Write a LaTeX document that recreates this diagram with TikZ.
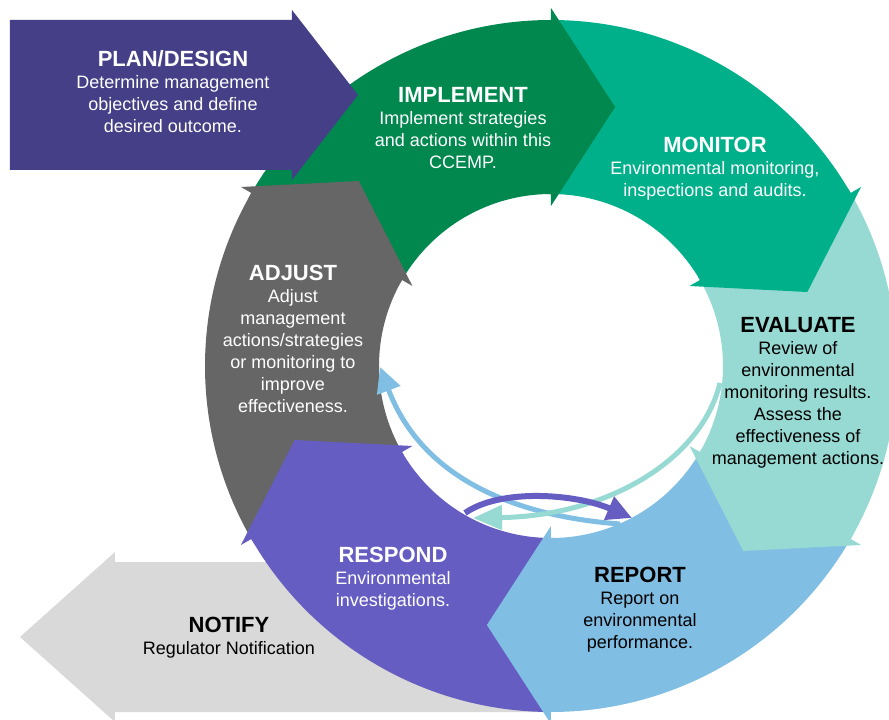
\documentclass[tikz,border=0pt]{standalone}
\usepackage{fontspec}
\setmainfont{Liberation Sans}
\usetikzlibrary{arrows.meta}
\definecolor{plancol}{HTML}{443F86}
\definecolor{implcol}{HTML}{00884F}
\definecolor{monicol}{HTML}{00B08A}
\definecolor{evalcol}{HTML}{96DAD3}
\definecolor{repocol}{HTML}{80BEE3}
\definecolor{respcol}{HTML}{655DC1}
\definecolor{adjucol}{HTML}{666666}
\definecolor{noticol}{HTML}{D9D9D9}
\newcommand{\ttl}[1]{{\fontsize{22}{22}\selectfont\bfseries #1}}
\begin{document}
\begin{tikzpicture}[x=1pt,y=1pt,
  lbl/.style={align=center,inner sep=0pt,anchor=north,font=\fontsize{18}{22}\selectfont},
  innerarrow/.style={line width=5pt,-{Triangle[length=25pt,width=24pt]}}]
\useasboundingbox (-551,-354) rectangle (338,366);
% NOTIFY arrow (behind ring)
\fill[noticol] (-11,-196) -- (-436,-196) -- (-436,-186) -- (-531,-271) -- (-436,-356) -- (-436,-346) -- (-11,-346) -- cycle;
% ring bands
\foreach \s/\e/\c in {150/90/implcol, 90/30/monicol, 30/-30/evalcol, -30/-90/repocol, -90/-150/respcol, 210/150/adjucol}
  \fill[\c] (\s:346) arc[start angle=\s,end angle=\e,radius=346] -- (\e:172) arc[start angle=\e,end angle=\s,radius=172] -- cycle;
% arrow heads (with a small sliver of their own band to hide seams)
\foreach \e/\c in {90/implcol, 30/monicol, -30/evalcol, -90/repocol, -150/respcol, 150/adjucol}
  \fill[\c] ({\e+1}:172) -- (\e:172) -- (\e:160) -- ({\e-13.9}:266.8) -- (\e:358) -- (\e:346) -- ({\e+1}:346) -- cycle;
% PLAN/DESIGN arrow
\fill[plancol] (-541,346) -- (-259,346) -- (-259,356) -- (-193,271) -- (-259,186) -- (-259,196) -- (-541,196) -- cycle;
% inner arrows
\coordinate (bS) at (69,-158);
\coordinate (bE) at (-171,-1);
\coordinate (tS) at (169,-17);
\coordinate (tE) at (-78,-152);
\coordinate (pS) at (-86,-147);
\coordinate (pE) at (81,-152);
\draw[repocol,innerarrow] (bS) .. controls (-40,-150) and (-130,-110) .. (bE);
\draw[evalcol,innerarrow,-{Triangle[length=29pt,width=24pt]}] (tS) .. controls (150,-95) and (55,-150) .. (tE);
\draw[respcol,innerarrow,line width=6pt] (pS) .. controls (-50,-122) and (25,-128) .. (pE);
% labels
\node[lbl,text=white] (tplan) at (-378,316) {\ttl{PLAN/DESIGN}\\Determine management\\objectives and define\\desired outcome.};
\node[lbl,text=white] (timpl) at (-88,279) {\ttl{IMPLEMENT}\\Implement strategies\\and actions within this\\CCEMP.};
\node[lbl,text=white] (tmoni) at (164,229) {\ttl{MONITOR}\\Environmental monitoring,\\inspections and audits.};
\node[lbl,text=black] (teval) at (247,49) {\ttl{EVALUATE}\\Review of\\environmental\\monitoring results.\\Assess the\\effectiveness of\\management actions.};
\node[lbl,text=black] (trepo) at (89,-201) {\ttl{REPORT}\\Report on\\environmental\\performance.};
\node[lbl,text=white] (tresp) at (-158,-181) {\ttl{RESPOND}\\Environmental\\investigations.};
\node[lbl,text=white] (tadju) at (-258,101) {\ttl{ADJUST}\\Adjust\\management\\actions/strategies\\or monitoring to\\improve\\effectiveness.};
\node[lbl,text=black] (tnoti) at (-322,-251) {\ttl{NOTIFY}\\Regulator Notification};
\end{tikzpicture}
\end{document}
